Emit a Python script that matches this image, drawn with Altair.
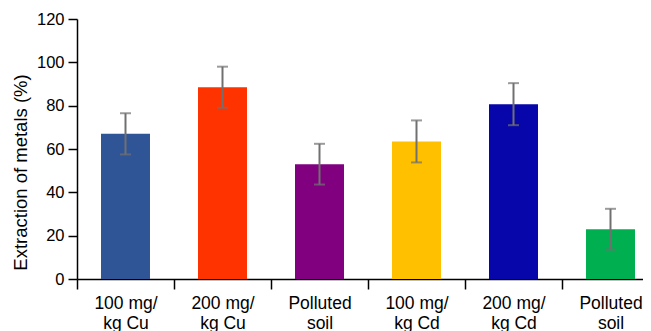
import json
import altair as alt
import pandas as pd

groups = ["Cu100", "Cu200", "CuSoil", "Cd100", "Cd200", "CdSoil"]
label_lines = [["100 mg/", "kg Cu"], ["200 mg/", "kg Cu"], ["Polluted", "soil"],
               ["100 mg/", "kg Cd"], ["200 mg/", "kg Cd"], ["Polluted", "soil"]]
extraction = [67.0, 88.5, 53.0, 63.5, 80.7, 23.0]
error = [9.5, 9.5, 9.4, 9.7, 9.7, 9.4]
colors = ["#2F5597", "#FF3300", "#800080", "#FFC000", "#0606AA", "#00B050"]
y_ticks = [0, 20, 40, 60, 80, 100, 120]

df = pd.DataFrame({"group": groups, "value": extraction, "err": error, "color": colors})
df["lo"] = df["value"] - df["err"]
df["hi"] = df["value"] + df["err"]

label_expr = f"{json.dumps(label_lines)}[indexof({json.dumps(groups)}, datum.value)]"
FONT = "Liberation Sans"

x = alt.X(
    "group:N",
    sort=groups,
    scale=alt.Scale(domain=groups, range=[0, 582], paddingInner=0, paddingOuter=0),
    axis=alt.Axis(
        title=None, labelExpr=label_expr, labelAngle=0, tickBand="extent",
        labelFontSize=17.5, labelLineHeight=20, labelPadding=5, tickSize=10,
        labelFont=FONT, labelColor="black", domainColor="black", tickColor="black",
        domainWidth=1.5, tickWidth=1.5,
    ),
)

y_scale = alt.Scale(domain=[0, 120], nice=False)

bars = alt.Chart(df).mark_bar(width=alt.RelativeBandSize(0.505)).encode(
    x=x,
    y=alt.Y(
        "value:Q",
        scale=y_scale,
        axis=alt.Axis(
            values=y_ticks, title="Extraction of metals (%)", grid=False,
            tickSize=9, labelPadding=4, labelFontSize=16.5, labelFont=FONT,
            labelColor="black", titleFont=FONT, titleFontSize=18.5,
            titleFontWeight="normal", titleColor="black", titlePadding=6,
            titleY=153,
            domainColor="black", tickColor="black", domainWidth=1.5, tickWidth=1.5,
        ),
    ),
    color=alt.Color("color:N", scale=None),
)

rules = alt.Chart(df).mark_rule(color="#707070", strokeWidth=2).encode(
    x=alt.X("group:N", sort=groups),
    y=alt.Y("lo:Q", scale=y_scale),
    y2="hi:Q",
)

caps_hi = alt.Chart(df).mark_tick(color="#707070", thickness=2, size=11, orient="horizontal").encode(
    x=alt.X("group:N", sort=groups),
    y=alt.Y("hi:Q", scale=y_scale),
)
caps_lo = alt.Chart(df).mark_tick(color="#707070", thickness=2, size=11, orient="horizontal").encode(
    x=alt.X("group:N", sort=groups),
    y=alt.Y("lo:Q", scale=y_scale),
)

chart = (
    alt.layer(bars, rules, caps_hi, caps_lo)
    .properties(
        width=566, height=260,
        autosize=alt.AutoSizeParams(type="none"),
        padding={"left": 69, "top": 11, "right": 0, "bottom": 52},
    )
    .configure_view(stroke=None)
)

chart.save("out.html", embed_options={"renderer": "svg", "actions": False})
